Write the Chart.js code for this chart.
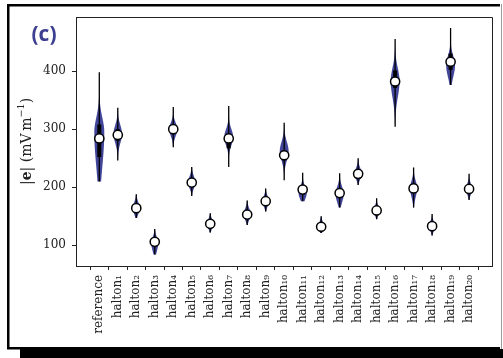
<!DOCTYPE html>
<html>
<head>
<meta charset="utf-8">
<script src="https://cdn.jsdelivr.net/npm/chart.js@4/dist/chart.umd.min.js"></script>
<style>
html,body{margin:0;padding:0;background:#fff;}
#wrap{width:503px;height:358px;position:relative;}
</style>
</head>
<body>
<div id="wrap"><canvas id="c" width="503" height="358"></canvas></div>
<script>
// ---- data ----
const categories = ['reference','halton₁','halton₂','halton₃','halton₄','halton₅','halton₆','halton₇','halton₈','halton₉','halton₁₀',
  'halton₁₁','halton₁₂','halton₁₃','halton₁₄','halton₁₅','halton₁₆','halton₁₇','halton₁₈','halton₁₉','halton₂₀'];
const medians = [284, 290, 164, 106, 300, 208, 137, 284, 153, 176, 255, 196, 132, 190, 223, 160, 382, 198, 133, 416, 197];
const lows    = [210, 246, 147,  84, 269, 185, 122, 235, 135, 158, 212, 176, 121, 165, 204, 145, 304, 165, 117, 376, 178];
const highs   = [398, 337, 188, 128, 338, 235, 155, 340, 177, 198, 311, 225, 150, 224, 250, 181, 455, 234, 154, 474, 223];
const q1      = [252, 280, 159, 100, 294, 202, 133, 267, 148, 172, 246, 190, 128, 183, 218, 156, 371, 190, 129, 402, 193];
const q3      = [308, 300, 170, 112, 306, 213, 141, 292, 158, 181, 264, 201, 136, 197, 228, 164, 401, 206, 138, 430, 202];
// violin body: value of widest point, half width at that point (category units), spread below / above
const modes   = [295, 292, 164, 104, 300, 208, 137, 286, 153, 176, 262, 190, 132, 188, 223, 160, 383, 198, 133, 410, 197];
const widths  = [0.27, 0.23, 0.19, 0.19, 0.22, 0.19, 0.17, 0.24, 0.19, 0.17, 0.24, 0.22, 0.16, 0.22, 0.19, 0.16, 0.24, 0.19, 0.16, 0.24, 0.17];
const spreadLo= [60, 16, 10, 14, 12, 10, 8, 14, 9, 9, 16, 11, 7, 14, 9, 8, 28, 15, 8, 20, 9];
const spreadHi= [25, 15, 10, 10, 11, 11, 8, 14, 10, 9, 16, 11, 8, 13, 10, 8, 22, 13, 8, 16, 9];
const yTicks  = [100, 200, 300, 400];

const idx = categories.map((_, i) => i);
const serif = "'DejaVu Serif', serif";

const framePlugin = {
  id: 'frame',
  beforeDraw(chart) {
    const ctx = chart.ctx;
    ctx.save();
    ctx.fillStyle = '#fff';
    ctx.fillRect(0, 0, chart.width, chart.height);
    ctx.fillStyle = '#000';
    ctx.fillRect(20, 349, chart.width - 20, chart.height - 349);
    ctx.strokeStyle = '#000';
    ctx.lineWidth = 2.5;
    ctx.beginPath();
    ctx.moveTo(500, 5.25); ctx.lineTo(8.25, 5.25); ctx.lineTo(8.25, 348.25); ctx.lineTo(500, 348.25);
    ctx.stroke();
    ctx.strokeStyle = '#9a9a9a';
    ctx.lineWidth = 1;
    ctx.beginPath(); ctx.moveTo(501.5, 4); ctx.lineTo(501.5, 349); ctx.stroke();
    ctx.fillStyle = '#3d3f90';
    ctx.font = "bold 21px 'Open Sans', sans-serif";
    ctx.textAlign = 'center';
    ctx.textBaseline = 'middle';
    ctx.fillText('(c)', 44, 35);
    ctx.restore();
  },
  beforeDatasetsDraw(chart) {
    const ctx = chart.ctx, xs = chart.scales.x, ys = chart.scales.y, a = chart.chartArea;
    ctx.save();
    ctx.beginPath(); ctx.rect(a.left, a.top, a.right - a.left, a.bottom - a.top); ctx.clip();
    ctx.fillStyle = 'rgba(40,44,140,0.88)';
    idx.forEach(i => {
      const N = 60, lo = lows[i], hi = highs[i];
      const pts = [];
      for (let k = 0; k <= N; k++) {
        const v = lo + (hi - lo) * k / N;
        const s = v < modes[i] ? spreadLo[i] : spreadHi[i];
        const w = widths[i] * Math.exp(-0.5 * Math.pow((v - modes[i]) / s, 2));
        pts.push([v, w]);
      }
      ctx.beginPath();
      pts.forEach(([v, w], k) => {
        const px = xs.getPixelForValue(i + w), py = ys.getPixelForValue(v);
        k ? ctx.lineTo(px, py) : ctx.moveTo(px, py);
      });
      for (let k = pts.length - 1; k >= 0; k--) {
        const [v, w] = pts[k];
        ctx.lineTo(xs.getPixelForValue(i - w), ys.getPixelForValue(v));
      }
      ctx.closePath();
      ctx.fill();
    });
    ctx.restore();
  },
  afterDraw(chart) {
    const ctx = chart.ctx, a = chart.chartArea;
    ctx.save();
    ctx.strokeStyle = '#222';
    ctx.lineWidth = 1;
    ctx.beginPath();
    ctx.moveTo(Math.round(a.left) + 0.5, Math.round(a.top) + 0.5);
    ctx.lineTo(Math.round(a.right) + 0.5, Math.round(a.top) + 0.5);
    ctx.lineTo(Math.round(a.right) + 0.5, Math.round(a.bottom) + 0.5);
    ctx.stroke();
    const cy = (a.top + a.bottom) / 2;
    ctx.translate(27, cy);
    ctx.rotate(-Math.PI / 2);
    ctx.fillStyle = '#222';
    ctx.textBaseline = 'middle';
    ctx.textAlign = 'left';
    const segs = [
      {t: '|', f: `14px ${serif}`, dy: 0},
      {t: 'e', f: `bold 14px ${serif}`, dy: 0},
      {t: '| (mV\u2009m', f: `14px ${serif}`, dy: 0},
      {t: '−1', f: `9.5px ${serif}`, dy: -5},
      {t: ')', f: `14px ${serif}`, dy: 0}
    ];
    let total = 0;
    segs.forEach(s => { ctx.font = s.f; s.w = ctx.measureText(s.t).width; total += s.w; });
    let x = -total / 2;
    segs.forEach(s => { ctx.font = s.f; ctx.fillText(s.t, x, s.dy); x += s.w; });
    ctx.restore();
  }
};

new Chart(document.getElementById('c'), {
  data: {
    datasets: [
      {
        type: 'bar', label: 'range', grouped: false,
        data: idx.map(i => ({x: i, y: [lows[i], highs[i]]})),
        backgroundColor: '#000', barThickness: 1.3, borderWidth: 0, inflateAmount: 0, order: 3
      },
      {
        type: 'bar', label: 'iqr', grouped: false,
        data: idx.map(i => ({x: i, y: [q1[i], q3[i]]})),
        backgroundColor: '#000', barThickness: 4, borderWidth: 0, inflateAmount: 0, order: 2
      },
      {
        type: 'scatter', label: 'median',
        data: idx.map(i => ({x: i, y: medians[i]})),
        pointRadius: 4.6, pointBackgroundColor: '#fff', pointBorderColor: '#000', pointBorderWidth: 1.5,
        pointHoverRadius: 4.6, order: 1
      }
    ]
  },
  options: {
    responsive: false,
    animation: false,
    devicePixelRatio: 1,
    layout: {padding: {top: 17, right: 11, left: 0, bottom: 0}},
    plugins: {legend: {display: false}, tooltip: {enabled: false}},
    scales: {
      x: {
        type: 'linear', min: -1.26, max: 21.24, offset: false,
        afterBuildTicks: s => { s.ticks = idx.map(v => ({value: v})); },
        afterFit: s => { s.height = 92; },
        ticks: {
          autoSkip: false, minRotation: 90, maxRotation: 90, padding: 5,
          color: '#222', font: {family: serif, size: 12},
          callback: v => categories[v]
        },
        grid: {display: true, drawOnChartArea: false, drawTicks: true, tickLength: 4, color: '#222', lineWidth: 1},
        border: {display: true, color: '#222', width: 1}
      },
      y: {
        type: 'linear', min: 64.4, max: 493,
        afterBuildTicks: s => { s.ticks = yTicks.map(v => ({value: v})); },
        afterFit: s => { s.width = 76; },
        ticks: {padding: 6, color: '#222', font: {family: serif, size: 12}},
        grid: {display: true, drawOnChartArea: false, drawTicks: true, tickLength: 4, color: '#222', lineWidth: 1},
        border: {display: true, color: '#222', width: 1}
      }
    }
  },
  plugins: [framePlugin]
});
</script>
</body>
</html>
